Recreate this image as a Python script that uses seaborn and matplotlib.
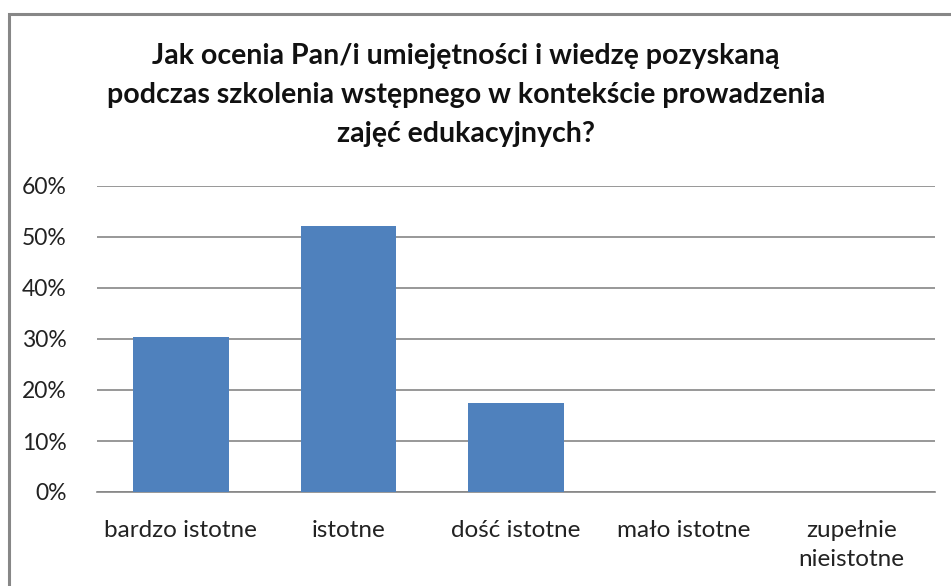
import matplotlib
matplotlib.use("Agg")
import matplotlib.pyplot as plt
import matplotlib.patches as patches
from matplotlib.ticker import FuncFormatter, MultipleLocator
import seaborn as sns
import pandas as pd

categories = ["bardzo istotne", "istotne", "dość istotne", "mało istotne", "zupełnie\nnieistotne"]
values = [0.304, 0.522, 0.174, 0.0, 0.0]
title = "Jak ocenia Pan/i umiejętności i wiedzę pozyskaną\npodczas szkolenia wstępnego w kontekście prowadzenia\nzajęć edukacyjnych?"

sns.set_theme(style="white")
plt.rcParams['font.family'] = ['Lato', 'DejaVu Sans']

df = pd.DataFrame({"cat": categories, "val": values})

fig = plt.figure(figsize=(9.51, 5.86), dpi=100)
ax = fig.add_axes([97/951, 1-492/586, (935-97)/951, (492-186)/586])

sns.barplot(data=df, x="cat", y="val", color="#4F81BD", saturation=1, width=0.57,
            linewidth=0, ax=ax, zorder=3)

ax.set_ylim(0, 0.6)
ax.yaxis.set_major_locator(MultipleLocator(0.1))
ax.yaxis.set_major_formatter(FuncFormatter(lambda v, p: f"{v*100:.0f}%"))
ax.grid(axis="y", color="#868686", linewidth=1.2, zorder=0)
ax.set_axisbelow(True)
for s in ["left", "right", "top"]:
    ax.spines[s].set_visible(False)
ax.spines["bottom"].set_color("#868686")
ax.spines["bottom"].set_linewidth(1.2)
ax.set_xlabel("")
ax.set_ylabel("")
ax.tick_params(axis="both", length=0, colors="#222222")
ax.tick_params(axis="y", pad=22, labelsize=16.5)
ax.tick_params(axis="x", pad=20, labelsize=17.5)
for lbl in ax.get_xticklabels():
    lbl.set_linespacing(1.5)
    lbl.set_verticalalignment("top")

fig.text(0.49, 1-95/586, title, ha="center", va="center", fontsize=20.5,
         fontweight="bold", linespacing=1.6, color="#111111")

fig.patches.append(patches.Rectangle((9/951, -0.1), 1.2, 1.1 - 14/586,
                                     transform=fig.transFigure, fill=False,
                                     edgecolor="#878787", linewidth=2.2))

fig.savefig("out.png", dpi=100)
